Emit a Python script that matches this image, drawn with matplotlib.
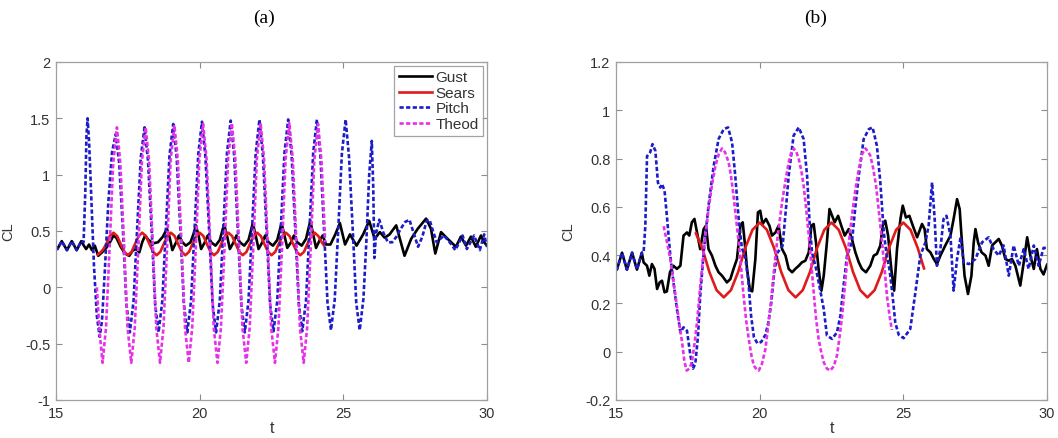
import numpy as np
import matplotlib
matplotlib.use("Agg")
import matplotlib.pyplot as plt

plt.rcParams['font.family'] = ['Liberation Sans', 'DejaVu Sans']

# ---------------- Panel (a) data: (t, CL) ----------------
a_gust = [
    (15.00, 0.36), (15.05, 0.34), (15.20, 0.41), (15.38, 0.33), (15.55, 0.41), (15.72, 0.33), (15.88, 0.41),
    (15.97, 0.37), (16.05, 0.34), (16.15, 0.38), (16.25, 0.33), (16.35, 0.37), (16.47, 0.28), (16.60, 0.31),
    (16.75, 0.35), (16.90, 0.41), (17.00, 0.46), (17.10, 0.44), (17.25, 0.36), (17.40, 0.30), (17.55, 0.28),
    (17.68, 0.33), (17.80, 0.34), (17.90, 0.31), (18.00, 0.40), (18.10, 0.46), (18.22, 0.42), (18.38, 0.39),
    (18.55, 0.40), (18.72, 0.45), (18.86, 0.52), (18.96, 0.44), (19.05, 0.33), (19.18, 0.40), (19.28, 0.46),
    (19.40, 0.40), (19.52, 0.37), (19.68, 0.40), (19.78, 0.47), (19.87, 0.55), (19.97, 0.45), (20.05, 0.34),
    (20.18, 0.40), (20.28, 0.46), (20.40, 0.40), (20.55, 0.37), (20.70, 0.42), (20.85, 0.56), (20.95, 0.46),
    (21.05, 0.34), (21.18, 0.40), (21.28, 0.46), (21.40, 0.40), (21.55, 0.37), (21.70, 0.42), (21.85, 0.57),
    (21.95, 0.46), (22.05, 0.34), (22.18, 0.40), (22.28, 0.46), (22.40, 0.40), (22.55, 0.37), (22.70, 0.42),
    (22.85, 0.57), (22.95, 0.46), (23.05, 0.35), (23.18, 0.40), (23.28, 0.46), (23.40, 0.40), (23.55, 0.37),
    (23.70, 0.43), (23.85, 0.59), (23.95, 0.47), (24.05, 0.35), (24.18, 0.42), (24.28, 0.46), (24.40, 0.38),
    (24.55, 0.38), (24.72, 0.47), (24.88, 0.57), (25.06, 0.38), (25.23, 0.47), (25.46, 0.37), (25.69, 0.47),
    (25.90, 0.59), (26.09, 0.43), (26.27, 0.49), (26.44, 0.44), (26.61, 0.47), (26.84, 0.55), (27.13, 0.28),
    (27.36, 0.43), (27.59, 0.52), (27.88, 0.61), (28.05, 0.52), (28.20, 0.30), (28.40, 0.49), (28.63, 0.43),
    (28.92, 0.36), (29.09, 0.45), (29.27, 0.37), (29.44, 0.45), (29.61, 0.36), (29.79, 0.46), (29.90, 0.40),
    (30.00, 0.37),
]

a_sears = [
    (16.45, 0.29), (16.55, 0.31), (16.65, 0.34), (16.75, 0.385), (16.87, 0.455), (17.00, 0.485),
    (17.13, 0.455), (17.25, 0.385), (17.38, 0.315), (17.50, 0.285), (17.63, 0.315), (17.75, 0.385),
    (17.88, 0.455), (18.00, 0.485), (18.13, 0.455), (18.25, 0.385), (18.38, 0.315), (18.50, 0.285),
    (18.63, 0.315), (18.75, 0.385), (18.88, 0.455), (19.00, 0.485), (19.13, 0.455), (19.25, 0.385),
    (19.38, 0.315), (19.50, 0.285), (19.63, 0.315), (19.75, 0.385), (19.88, 0.455), (20.00, 0.485),
    (20.13, 0.455), (20.25, 0.385), (20.38, 0.315), (20.50, 0.285), (20.63, 0.315), (20.75, 0.385),
    (20.88, 0.455), (21.00, 0.485), (21.13, 0.455), (21.25, 0.385), (21.38, 0.315), (21.50, 0.285),
    (21.63, 0.315), (21.75, 0.385), (21.88, 0.455), (22.00, 0.485), (22.13, 0.455), (22.25, 0.385),
    (22.38, 0.315), (22.50, 0.285), (22.63, 0.315), (22.75, 0.385), (22.88, 0.455), (23.00, 0.485),
    (23.13, 0.455), (23.25, 0.385), (23.38, 0.315), (23.50, 0.285), (23.63, 0.315), (23.75, 0.385),
    (23.88, 0.455), (24.00, 0.485), (24.13, 0.455), (24.25, 0.40), (24.33, 0.37),
]

a_pitch = [
    (15.00, 0.36), (15.05, 0.34), (15.20, 0.41), (15.38, 0.33), (15.55, 0.41), (15.72, 0.33), (15.88, 0.41),
    (15.96, 0.40), (16.02, 0.85), (16.06, 1.35), (16.10, 1.50), (16.15, 1.30), (16.22, 0.85), (16.32, 0.20),
    (16.42, -0.25), (16.52, -0.44), (16.60, -0.30), (16.70, 0.15), (16.82, 0.75), (16.95, 1.20), (17.08, 1.36),
    (17.20, 1.10), (17.33, 0.50), (17.45, -0.15), (17.57, -0.40), (17.70, -0.12), (17.82, 0.50), (17.95, 1.15),
    (18.08, 1.42), (18.20, 1.13), (18.33, 0.50), (18.45, -0.15), (18.57, -0.40), (18.70, -0.12), (18.82, 0.50),
    (18.95, 1.17), (19.08, 1.45), (19.20, 1.15), (19.33, 0.50), (19.45, -0.15), (19.57, -0.40), (19.70, -0.12),
    (19.82, 0.50), (19.95, 1.18), (20.08, 1.47), (20.20, 1.16), (20.33, 0.50), (20.45, -0.15), (20.57, -0.40),
    (20.70, -0.12), (20.82, 0.50), (20.95, 1.19), (21.08, 1.48), (21.20, 1.17), (21.33, 0.50), (21.45, -0.15),
    (21.57, -0.40), (21.70, -0.12), (21.82, 0.50), (21.95, 1.19), (22.08, 1.49), (22.20, 1.17), (22.33, 0.50),
    (22.45, -0.15), (22.57, -0.39), (22.70, -0.12), (22.82, 0.50), (22.95, 1.19), (23.08, 1.49), (23.20, 1.17),
    (23.33, 0.50), (23.45, -0.15), (23.57, -0.39), (23.70, -0.12), (23.82, 0.50), (23.95, 1.19), (24.08, 1.49),
    (24.20, 1.17), (24.33, 0.50), (24.45, -0.14), (24.57, -0.38), (24.70, -0.11), (24.82, 0.50), (24.95, 1.19),
    (25.08, 1.49), (25.20, 1.15), (25.33, 0.50), (25.45, -0.14), (25.57, -0.38), (25.70, -0.10), (25.80, 0.40),
    (25.90, 1.00), (25.99, 1.30), (26.04, 0.90), (26.08, 0.26), (26.14, 0.48), (26.25, 0.60), (26.40, 0.48),
    (26.55, 0.40), (26.70, 0.40), (26.85, 0.45), (27.00, 0.52), (27.15, 0.58), (27.30, 0.60), (27.45, 0.48),
    (27.60, 0.36), (27.75, 0.45), (27.90, 0.59), (28.00, 0.60), (28.12, 0.50), (28.25, 0.40), (28.50, 0.46),
    (28.70, 0.40), (28.90, 0.33), (29.15, 0.46), (29.30, 0.34), (29.55, 0.46), (29.75, 0.33), (29.90, 0.47),
    (30.00, 0.36),
]

a_theod = [
    (16.42, 0.00), (16.52, -0.40), (16.62, -0.67), (16.74, -0.36), (16.87, 0.38), (16.99, 1.10), (17.12, 1.42),
    (17.24, 1.10), (17.37, 0.38), (17.49, -0.36), (17.62, -0.67), (17.74, -0.36), (17.87, 0.38), (17.99, 1.12),
    (18.12, 1.42), (18.24, 1.12), (18.37, 0.38), (18.49, -0.36), (18.62, -0.67), (18.74, -0.36), (18.87, 0.38),
    (18.99, 1.13), (19.12, 1.44), (19.24, 1.13), (19.37, 0.38), (19.49, -0.36), (19.62, -0.67), (19.74, -0.36),
    (19.87, 0.38), (19.99, 1.14), (20.12, 1.45), (20.24, 1.14), (20.37, 0.38), (20.49, -0.36), (20.62, -0.67),
    (20.74, -0.36), (20.87, 0.38), (20.99, 1.14), (21.12, 1.46), (21.24, 1.14), (21.37, 0.38), (21.49, -0.36),
    (21.62, -0.67), (21.74, -0.36), (21.87, 0.38), (21.99, 1.14), (22.12, 1.46), (22.24, 1.14), (22.37, 0.38),
    (22.49, -0.36), (22.62, -0.67), (22.74, -0.36), (22.87, 0.38), (22.99, 1.14), (23.12, 1.46), (23.24, 1.14),
    (23.37, 0.38), (23.49, -0.36), (23.62, -0.67), (23.74, -0.36), (23.87, 0.38), (23.99, 1.13), (24.12, 1.45),
    (24.24, 1.12), (24.37, 0.40),
]

# ---------------- Panel (b) data: (t, CL) ----------------
b_gust = [
    (15.00, 0.34), (15.03, 0.34), (15.21, 0.41), (15.38, 0.34), (15.56, 0.41), (15.73, 0.34), (15.90, 0.41),
    (15.96, 0.37), (16.08, 0.356), (16.16, 0.315), (16.25, 0.363), (16.34, 0.343), (16.43, 0.26), (16.52, 0.287),
    (16.60, 0.294), (16.69, 0.246), (16.77, 0.25), (16.88, 0.33), (17.00, 0.356), (17.12, 0.343), (17.24, 0.356),
    (17.35, 0.481), (17.47, 0.494), (17.55, 0.481), (17.64, 0.536), (17.73, 0.55), (17.85, 0.474), (17.93, 0.425),
    (18.05, 0.508), (18.13, 0.522), (18.22, 0.425), (18.34, 0.398), (18.46, 0.356), (18.57, 0.329), (18.69, 0.315),
    (18.86, 0.287), (18.98, 0.301), (19.09, 0.343), (19.21, 0.384), (19.33, 0.522), (19.41, 0.536), (19.48, 0.453),
    (19.56, 0.343), (19.66, 0.255), (19.74, 0.25), (19.85, 0.384), (19.94, 0.577), (20.02, 0.584), (20.10, 0.529),
    (20.22, 0.55), (20.34, 0.522), (20.43, 0.481), (20.55, 0.494), (20.66, 0.522), (20.78, 0.425), (20.90, 0.398),
    (21.01, 0.343), (21.13, 0.329), (21.24, 0.343), (21.36, 0.356), (21.47, 0.37), (21.59, 0.377), (21.71, 0.412),
    (21.80, 0.522), (21.88, 0.529), (21.96, 0.453), (22.05, 0.343), (22.15, 0.253), (22.23, 0.315), (22.34, 0.453),
    (22.43, 0.591), (22.52, 0.563), (22.61, 0.536), (22.73, 0.563), (22.84, 0.522), (22.96, 0.481), (23.10, 0.508),
    (23.21, 0.467), (23.33, 0.412), (23.45, 0.37), (23.56, 0.343), (23.70, 0.329), (23.85, 0.356), (23.97, 0.398),
    (24.08, 0.405), (24.20, 0.44), (24.28, 0.522), (24.37, 0.543), (24.47, 0.481), (24.58, 0.343), (24.68, 0.253),
    (24.78, 0.425), (24.90, 0.55), (24.98, 0.605), (25.09, 0.556), (25.21, 0.563), (25.33, 0.522), (25.48, 0.474),
    (25.65, 0.529), (25.74, 0.508), (25.82, 0.425), (25.94, 0.412), (26.06, 0.384), (26.17, 0.363), (26.29, 0.398),
    (26.46, 0.44), (26.64, 0.481), (26.75, 0.55), (26.87, 0.632), (26.96, 0.591), (27.04, 0.453), (27.13, 0.315),
    (27.25, 0.239), (27.37, 0.315), (27.45, 0.453), (27.51, 0.508), (27.60, 0.453), (27.72, 0.412), (27.86, 0.398),
    (27.97, 0.356), (28.09, 0.44), (28.20, 0.453), (28.32, 0.467), (28.43, 0.44), (28.55, 0.384), (28.67, 0.377),
    (28.78, 0.384), (28.90, 0.356), (29.07, 0.274), (29.19, 0.37), (29.31, 0.474), (29.42, 0.398), (29.54, 0.343),
    (29.65, 0.425), (29.77, 0.343), (29.88, 0.32), (30.00, 0.36),
]

b_sears = [
    (17.78, 0.49), (18.00, 0.43), (18.25, 0.33), (18.50, 0.255), (18.75, 0.225), (19.00, 0.255), (19.25, 0.33),
    (19.50, 0.43), (19.75, 0.505), (20.00, 0.535), (20.25, 0.505), (20.50, 0.43), (20.75, 0.33), (21.00, 0.255),
    (21.25, 0.225), (21.50, 0.255), (21.75, 0.33), (22.00, 0.43), (22.25, 0.505), (22.50, 0.535), (22.75, 0.505),
    (23.00, 0.43), (23.25, 0.33), (23.50, 0.255), (23.75, 0.225), (24.00, 0.255), (24.25, 0.33), (24.50, 0.43),
    (24.75, 0.505), (25.00, 0.535), (25.25, 0.505), (25.50, 0.43), (25.72, 0.345),
]

b_pitch = [
    (15.00, 0.34), (15.03, 0.34), (15.21, 0.41), (15.38, 0.34), (15.56, 0.41), (15.73, 0.34), (15.90, 0.41),
    (15.96, 0.41), (16.02, 0.52), (16.08, 0.81), (16.19, 0.826), (16.27, 0.86), (16.37, 0.832), (16.46, 0.70),
    (16.54, 0.68), (16.60, 0.695), (16.69, 0.667), (16.77, 0.563), (16.89, 0.398), (17.00, 0.287), (17.12, 0.177),
    (17.24, 0.08), (17.35, 0.101), (17.47, 0.087), (17.59, -0.016), (17.68, -0.07), (17.76, -0.05), (17.85, 0.06),
    (17.93, 0.23), (18.05, 0.41), (18.22, 0.605), (18.40, 0.77), (18.57, 0.881), (18.75, 0.922), (18.90, 0.929),
    (19.04, 0.867), (19.15, 0.729), (19.27, 0.55), (19.38, 0.43), (19.50, 0.39), (19.60, 0.30), (19.70, 0.15),
    (19.80, 0.06), (19.92, 0.035), (20.05, 0.04), (20.20, 0.07), (20.30, 0.12), (20.40, 0.20), (20.50, 0.32),
    (20.62, 0.41), (20.80, 0.44), (20.92, 0.60), (21.01, 0.729), (21.18, 0.895), (21.36, 0.929), (21.53, 0.881),
    (21.65, 0.729), (21.73, 0.55), (21.82, 0.412), (21.95, 0.35), (22.11, 0.253), (22.23, 0.177), (22.34, 0.067),
    (22.52, 0.053), (22.69, 0.08), (22.81, 0.149), (22.92, 0.274), (23.04, 0.398), (23.21, 0.453), (23.33, 0.60),
    (23.45, 0.729), (23.62, 0.881), (23.80, 0.922), (23.93, 0.929), (24.08, 0.853), (24.20, 0.701), (24.32, 0.494),
    (24.42, 0.40), (24.52, 0.34), (24.61, 0.25), (24.72, 0.12), (24.84, 0.07), (25.01, 0.056), (25.24, 0.094),
    (25.42, 0.246), (25.59, 0.398), (25.77, 0.453), (25.88, 0.522), (26.00, 0.701), (26.09, 0.55), (26.17, 0.356),
    (26.29, 0.425), (26.40, 0.55), (26.50, 0.563), (26.64, 0.481), (26.75, 0.253), (26.87, 0.384), (26.99, 0.474),
    (27.10, 0.37), (27.28, 0.363), (27.51, 0.384), (27.74, 0.453), (27.97, 0.474), (28.14, 0.425), (28.32, 0.398),
    (28.49, 0.44), (28.67, 0.315), (28.84, 0.44), (29.02, 0.356), (29.19, 0.425), (29.36, 0.343), (29.54, 0.44),
    (29.71, 0.356), (29.88, 0.43), (30.00, 0.43),
]

b_theod = [
    (16.66, 0.52), (16.78, 0.45), (16.89, 0.384), (17.00, 0.29), (17.12, 0.19), (17.21, 0.11), (17.30, 0.039),
    (17.38, -0.04), (17.46, -0.078), (17.55, -0.07), (17.64, -0.044), (17.73, 0.03), (17.82, 0.122), (17.90, 0.23),
    (17.99, 0.343), (18.10, 0.47), (18.22, 0.591), (18.34, 0.69), (18.46, 0.77), (18.58, 0.82), (18.69, 0.842),
    (18.80, 0.825), (18.92, 0.784), (19.00, 0.73), (19.09, 0.646), (19.18, 0.55), (19.27, 0.453), (19.36, 0.34),
    (19.44, 0.232), (19.53, 0.13), (19.62, 0.053), (19.72, -0.02), (19.80, -0.058), (19.90, -0.075), (19.97, -0.078),
    (20.08, -0.05), (20.20, 0.011), (20.28, 0.09), (20.37, 0.177), (20.46, 0.29), (20.55, 0.398), (20.66, 0.51),
    (20.78, 0.619), (20.90, 0.71), (21.01, 0.784), (21.10, 0.825), (21.18, 0.842), (21.27, 0.83), (21.36, 0.798),
    (21.45, 0.75), (21.53, 0.688), (21.62, 0.59), (21.71, 0.481), (21.80, 0.36), (21.88, 0.246), (21.96, 0.14),
    (22.05, 0.053), (22.14, 0.0), (22.23, -0.044), (22.34, -0.07), (22.46, -0.078), (22.58, -0.06), (22.69, -0.016),
    (22.78, 0.06), (22.87, 0.149), (22.95, 0.25), (23.04, 0.37), (23.12, 0.47), (23.21, 0.563), (23.33, 0.67),
    (23.45, 0.757), (23.57, 0.82), (23.68, 0.842), (23.77, 0.83), (23.85, 0.812), (23.95, 0.76), (24.05, 0.688),
    (24.15, 0.58), (24.26, 0.453), (24.35, 0.34), (24.43, 0.232), (24.52, 0.15), (24.60, 0.09),
]

labels = ["Gust", "Sears", "Pitch", "Theod"]
a_yticks = [-1, -0.5, 0, 0.5, 1, 1.5, 2]
b_yticks = [-0.2, 0, 0.2, 0.4, 0.6, 0.8, 1, 1.2]
xticks = [15, 20, 25, 30]

# ---------------- Drawing ----------------
W, H = 1058, 439
fig = plt.figure(figsize=(W / 100, H / 100), dpi=100)

styles = [
    dict(color='black', lw=1.9, ls='-'),
    dict(color='#e01b1b', lw=1.9, ls='-'),
    dict(color='#1c1cc8', lw=1.9, ls=(0, (1.6, 0.9))),
    dict(color='#e632e6', lw=1.9, ls=(0, (1.6, 0.9))),
]

def draw(ax, series, yticks, ylim):
    for data, st, lab in zip(series, styles, labels):
        arr = np.array(data)
        ax.plot(arr[:, 0], arr[:, 1], label=lab, **st)
    ax.set_xlim(15, 30)
    ax.set_ylim(*ylim)
    ax.set_xticks(xticks)
    ax.set_yticks(yticks)
    ax.set_yticklabels([('%g' % v) for v in yticks])
    ax.tick_params(direction='in', top=True, right=True, length=4, width=0.8,
                   color='#8c8c8c', labelsize=10.5, labelcolor='#333333', pad=4)
    for sp in ax.spines.values():
        sp.set_color('#a0a0a0')
        sp.set_linewidth(0.9)
    ax.set_xlabel('t', fontsize=11.5, color='#333333', labelpad=0)
    ax.set_ylabel('CL', fontsize=10.5, color='#333333', labelpad=7)

ax1 = fig.add_axes([56 / W, 1 - 401 / H, 431 / W, 338 / H])
draw(ax1, [a_gust, a_sears, a_pitch, a_theod], a_yticks, (-1, 2))
leg = ax1.legend(loc='upper right', fontsize=11, frameon=True, fancybox=False,
                 edgecolor='#8c8c8c', borderaxespad=0.25, borderpad=0.3,
                 labelspacing=0.1, handlelength=2.2, handletextpad=0.2)
leg.get_frame().set_linewidth(0.9)
for t in leg.get_texts():
    t.set_color('#333333')

ax2 = fig.add_axes([616 / W, 1 - 401 / H, 431 / W, 338 / H])
draw(ax2, [b_gust, b_sears, b_pitch, b_theod], b_yticks, (-0.2, 1.2))

fig.text(264 / W, 1 - 18 / H, '(a)', ha='center', va='center', fontsize=14,
         family=['Liberation Serif', 'DejaVu Serif'])
fig.text(816 / W, 1 - 18 / H, '(b)', ha='center', va='center', fontsize=14,
         family=['Liberation Serif', 'DejaVu Serif'])

fig.savefig('out.png', dpi=100)
